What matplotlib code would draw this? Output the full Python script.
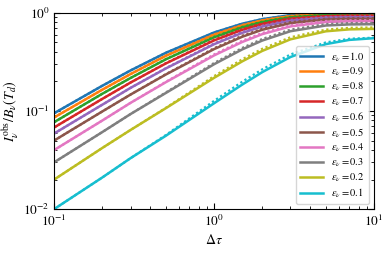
import numpy as np
import matplotlib
matplotlib.use("Agg")
import matplotlib.pyplot as plt

plt.rcParams['mathtext.fontset'] = 'stix'
plt.rcParams['font.family'] = 'STIXGeneral'

# optical depth samples
tau = [0.1, 0.2, 0.3, 0.5, 1.0, 1.5, 2.0, 3.0, 5.0, 7.0, 10.0]

eps_labels = ['1.0', '0.9', '0.8', '0.7', '0.6', '0.5', '0.4', '0.3', '0.2', '0.1']

# solid curves
I_solid = [
    [0.095, 0.181, 0.259, 0.393, 0.632, 0.777, 0.865, 0.950, 0.993, 0.999, 1.000],
    [0.086, 0.165, 0.238, 0.366, 0.600, 0.747, 0.838, 0.927, 0.973, 0.980, 0.981],
    [0.077, 0.150, 0.217, 0.337, 0.565, 0.713, 0.806, 0.901, 0.951, 0.958, 0.959],
    [0.068, 0.133, 0.195, 0.306, 0.525, 0.673, 0.770, 0.870, 0.924, 0.932, 0.933],
    [0.059, 0.116, 0.172, 0.272, 0.480, 0.627, 0.726, 0.833, 0.893, 0.902, 0.904],
    [0.050, 0.099, 0.147, 0.236, 0.428, 0.572, 0.674, 0.788, 0.856, 0.867, 0.868],
    [0.040, 0.080, 0.121, 0.197, 0.369, 0.506, 0.608, 0.729, 0.808, 0.822, 0.825],
    [0.030, 0.061, 0.093, 0.153, 0.300, 0.425, 0.523, 0.651, 0.745, 0.764, 0.768],
    [0.020, 0.042, 0.064, 0.107, 0.218, 0.321, 0.410, 0.538, 0.650, 0.680, 0.688],
    [0.010, 0.021, 0.033, 0.056, 0.120, 0.186, 0.249, 0.355, 0.481, 0.531, 0.553],
]

# dotted curves (sit slightly above the solid ones)
I_dotted = [
    [0.095, 0.181, 0.259, 0.393, 0.632, 0.777, 0.865, 0.950, 0.993, 0.999, 1.000],
    [0.086, 0.165, 0.238, 0.368, 0.605, 0.753, 0.845, 0.935, 0.981, 0.988, 0.989],
    [0.077, 0.150, 0.217, 0.339, 0.571, 0.721, 0.815, 0.911, 0.961, 0.968, 0.969],
    [0.068, 0.133, 0.195, 0.308, 0.532, 0.683, 0.782, 0.883, 0.937, 0.945, 0.946],
    [0.059, 0.116, 0.172, 0.274, 0.488, 0.640, 0.741, 0.849, 0.909, 0.918, 0.920],
    [0.050, 0.099, 0.147, 0.238, 0.437, 0.586, 0.690, 0.806, 0.874, 0.884, 0.886],
    [0.040, 0.080, 0.121, 0.199, 0.378, 0.521, 0.625, 0.749, 0.828, 0.842, 0.845],
    [0.030, 0.061, 0.093, 0.155, 0.309, 0.440, 0.543, 0.676, 0.770, 0.788, 0.792],
    [0.020, 0.042, 0.064, 0.108, 0.227, 0.337, 0.431, 0.565, 0.676, 0.705, 0.712],
    [0.010, 0.021, 0.033, 0.057, 0.127, 0.199, 0.266, 0.377, 0.501, 0.545, 0.560],
]

fig = plt.figure(figsize=(3.9, 2.54), dpi=100)
ax = fig.add_axes([0.139, 0.177, 0.82, 0.772])

for i, lab in enumerate(eps_labels):
    c = 'C%d' % i
    ax.plot(tau, I_solid[i], color=c, lw=1.8, label=r'$\epsilon_\nu = %s$' % lab)
    ax.plot(tau, I_dotted[i], color=c, lw=1.6, ls=(0, (1, 1.2)))

ax.set_xscale('log')
ax.set_yscale('log')
ax.set_xlim(0.1, 10)
ax.set_ylim(0.01, 1)
ax.set_xlabel(r'$\Delta\tau$', fontsize=10, labelpad=3)
ax.set_ylabel(r'$I_\nu^{\rm obs}/B_\nu(T_d)$', fontsize=10)
ax.yaxis.set_label_coords(-0.105, 0.5)
ax.tick_params(which='both', direction='in', top=True, right=True, labelsize=9.5)
ax.tick_params(which='major', length=4)
ax.tick_params(which='minor', length=2)

ax.legend(loc='lower right', fontsize=7.5, handlelength=2.2, labelspacing=0.22)

fig.savefig('out.png', dpi=100)
